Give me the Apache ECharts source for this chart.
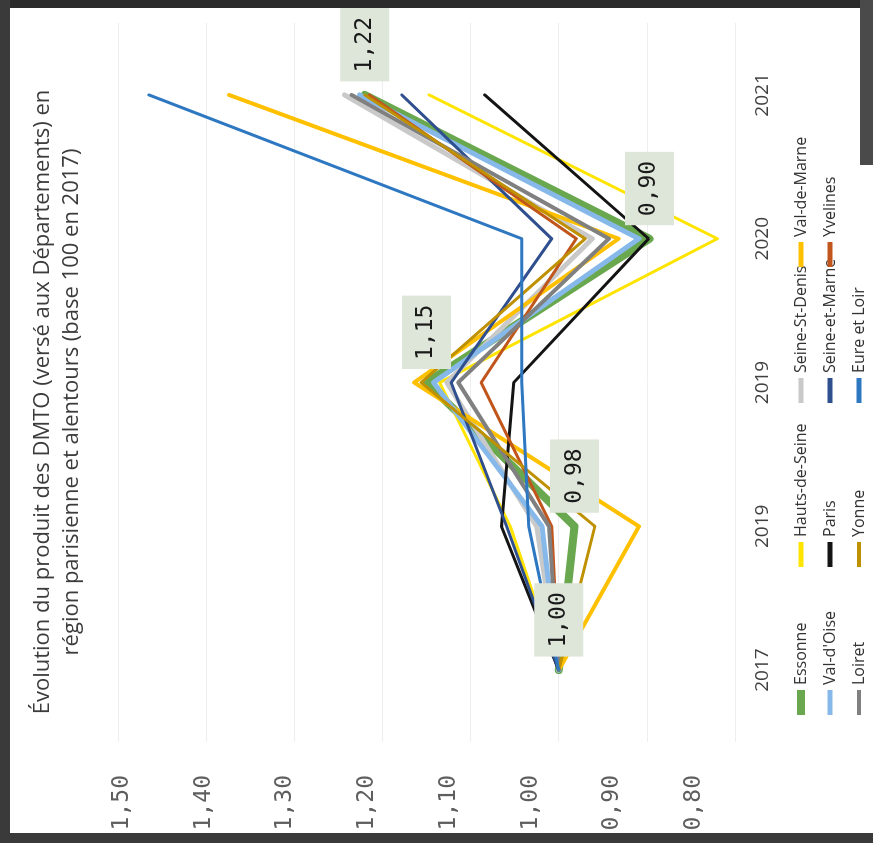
<!DOCTYPE html>
<html>
<head>
<meta charset="utf-8">
<script src="https://cdn.jsdelivr.net/npm/echarts@6/dist/echarts.min.js"></script>
<style>
html,body{margin:0;padding:0;background:#fff;overflow:hidden;width:873px;height:843px;}
#chart{position:absolute;left:0;top:0;width:843px;height:873px;transform-origin:0 0;transform:translate(0px,843px) rotate(-90deg);}
.edge{position:absolute;z-index:5;}
</style>
</head>
<body>
<div id="chart"></div>
<div class="edge" style="left:0;top:0;width:873px;height:8px;background:#2b2b2b"></div>
<div class="edge" style="left:0;top:0;width:10px;height:843px;background:#3a3a3a"></div>
<div class="edge" style="left:0;top:833px;width:873px;height:10px;background:#3a3a3a"></div>
<div class="edge" style="left:860px;top:0;width:13px;height:165px;background:#4a4a4a"></div>
<script>
// ---- data ----
const categories = ['2017', '2019', '2019', '2020', '2021'];
const valueTicks = [0.8, 0.9, 1.0, 1.1, 1.2, 1.3, 1.4, 1.5];

const essonne      = [1.00, 0.982, 1.150, 0.897, 1.220];
const hautsDeSeine = [1.00, 1.055, 1.135, 0.820, 1.147];
const seineStDenis = [1.00, 1.025, 1.127, 0.962, 1.243];
const valDeMarne   = [1.00, 0.909, 1.164, 0.932, 1.374];
const valDOise     = [1.00, 1.019, 1.142, 0.909, 1.226];
const paris        = [1.00, 1.065, 1.051, 0.898, 1.084];
const seineEtMarne = [1.00, 1.059, 1.122, 1.008, 1.178];
const yvelines     = [1.00, 1.008, 1.088, 0.980, 1.215];
const loiret       = [1.00, 1.011, 1.114, 0.943, 1.235];
const yonne        = [1.00, 0.959, 1.156, 0.970, 1.220];
const eureEtLoir   = [1.00, 1.034, 1.042, 1.042, 1.465];

const seriesNames = ['Essonne', 'Hauts-de-Seine', 'Seine-St-Denis', 'Val-de-Marne',
  "Val-d'Oise", 'Paris', 'Seine-et-Marne', 'Yvelines', 'Loiret', 'Yonne', 'Eure et Loir'];
const seriesData = [essonne, hautsDeSeine, seineStDenis, valDeMarne, valDOise, paris,
  seineEtMarne, yvelines, loiret, yonne, eureEtLoir];
const seriesColors = ['#6aa84f', '#ffe400', '#c9c9c9', '#ffc000', '#86b9ea', '#141414',
  '#2f4f8f', '#c0561c', '#808080', '#bf9000', '#2e78c2'];
const seriesWidths = [8, 3, 5, 4, 5, 3, 3, 3, 4, 3, 3];
const legendWidths = [8, 5, 5, 5, 5, 5, 5, 5, 4, 4, 5];

const legendColumns = [
  ['Essonne', "Val-d'Oise", 'Loiret'],
  ['Hauts-de-Seine', 'Paris', 'Yonne'],
  ['Seine-St-Denis', 'Seine-et-Marne', 'Eure et Loir'],
  ['Val-de-Marne', 'Yvelines']
];
const legendLefts = [128, 276, 440, 576];

const fmt = v => v.toFixed(2).replace('.', ',');

// ---- chart ----
const chart = echarts.init(document.getElementById('chart'), null, {renderer: 'canvas'});

const series = seriesNames.map((name, i) => {
  const s = {
    name: name,
    type: 'line',
    data: seriesData[i],
    symbol: i === 0 ? 'circle' : 'none',
    symbolSize: 1,
    showSymbol: i === 0,
    itemStyle: {color: seriesColors[i]},
    lineStyle: {color: seriesColors[i], width: seriesWidths[i], cap: 'round', join: 'round'},
    emphasis: {disabled: true},
    silent: true
  };
  if (i === 0) {
    s.label = {
      show: true,
      position: 'right',
      distance: 13,
      formatter: p => fmt(p.value),
      fontFamily: 'DejaVu Sans Mono',
      fontSize: 23,
      lineHeight: 27,
      color: '#1a1a1a',
      backgroundColor: '#dee6d9',
      padding: [11, 9]
    };
  }
  return s;
});

const legends = legendColumns.map((col, c) => ({
  orient: 'vertical',
  left: legendLefts[c],
  top: 793,
  padding: 0,
  itemGap: 13,
  itemWidth: 25,
  itemHeight: 14,
  selectedMode: false,
  textStyle: {fontFamily: 'Open Sans', fontSize: 16, lineHeight: 16, color: '#333333'},
  data: col.map(n => {
    const idx = seriesNames.indexOf(n);
    return {name: n, icon: 'path://M0 0H25V' + legendWidths[idx] + 'H0Z'};
  })
}));

const option = {
  animation: false,
  backgroundColor: '#ffffff',
  title: {
    text: 'Évolution du produit des DMTO (versé aux Départements) en\nrégion parisienne et alentours (base 100 en 2017)',
    left: 441,
    top: 28,
    padding: 0,
    textAlign: 'center',
    textStyle: {fontFamily: 'Open Sans', fontSize: 22, lineHeight: 29, fontWeight: 'normal', color: '#3c3c3c'}
  },
  legend: legends,
  grid: {left: 101, right: 23, top: 118, bottom: 138, containLabel: false, outerBoundsMode: 'none'},
  xAxis: {
    type: 'category',
    data: categories,
    boundaryGap: true,
    axisLine: {show: false},
    axisTick: {show: false},
    axisLabel: {fontFamily: 'Open Sans', fontSize: 19, color: '#404040', margin: 18}
  },
  yAxis: [
    {
      type: 'value',
      min: 0.8,
      max: 1.5,
      interval: 0.1,
      axisLine: {show: false},
      axisTick: {show: false},
      axisLabel: {show: false},
      splitLine: {lineStyle: {color: '#eeeeee', width: 1}}
    },
    {
      type: 'value',
      position: 'left',
      min: 0.74982,
      max: 1.5049,
      axisLine: {show: false},
      axisTick: {show: false},
      splitLine: {show: false},
      axisLabel: {
        customValues: valueTicks,
        formatter: v => fmt(v),
        fontFamily: 'DejaVu Sans Mono',
        fontSize: 23,
        color: '#5e5e5e',
        margin: 33
      }
    }
  ],
  series: series
};

chart.setOption(option);
</script>
</body>
</html>
